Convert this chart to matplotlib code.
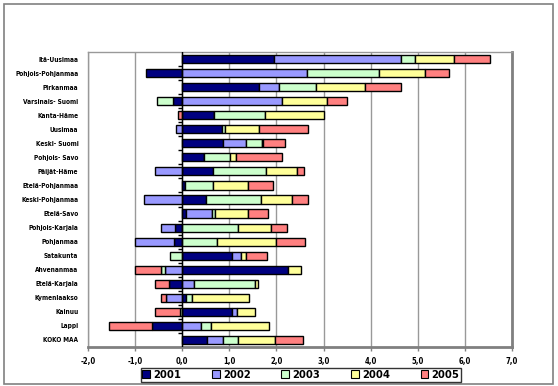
import matplotlib.pyplot as plt
import numpy as np
from matplotlib.patches import Rectangle

regions = ["Itä-Uusimaa", "Pohjois-Pohjanmaa", "Pirkanmaa", "Varsinais- Suomi",
           "Kanta-Häme", "Uusimaa", "Keski- Suomi", "Pohjois- Savo", "Päijät-Häme",
           "Etelä-Pohjanmaa", "Keski-Pohjanmaa", "Etelä-Savo", "Pohjois-Karjala",
           "Pohjanmaa", "Satakunta", "Ahvenanmaa", "Etelä-Karjala", "Kymenlaakso",
           "Kainuu", "Lappi", "KOKO MAA"]
years = ["2001", "2002", "2003", "2004", "2005"]

v2001 = [1.94, -0.76, 1.63, -0.20, 0.67, 0.84, 0.87, 0.46, 0.65, 0.05, 0.50,
         0.09, -0.15, -0.18, 1.06, 2.24, -0.28, 0.07, 1.05, -0.64, 0.53]
v2002 = [2.71, 2.65, 0.43, 2.11, 0.0, -0.13, 0.48, 0.0, -0.57, 0.0, -0.81,
         0.55, -0.30, -0.83, 0.19, -0.37, 0.26, -0.35, 0.12, 0.39, 0.33]
v2003 = [0.30, 1.52, 0.79, -0.34, 1.09, 0.07, 0.34, 0.55, 1.13, 0.60, 1.18,
         0.06, 1.18, 0.73, -0.26, -0.09, 1.28, 0.13, -0.05, 0.22, 0.33]
v2004 = [0.81, 0.99, 1.03, 0.97, 1.24, 0.72, 0.03, 0.13, 0.65, 0.74, 0.66,
         0.70, 0.70, 1.26, 0.10, 0.28, 0.07, 1.21, 0.37, 1.23, 0.77]
v2005 = [0.78, 0.50, 0.77, 0.42, -0.08, 1.03, 0.47, 0.98, 0.15, 0.54, 0.34,
         0.43, 0.34, 0.61, 0.44, -0.54, -0.29, -0.11, -0.53, -0.91, 0.60]

series = [v2001, v2002, v2003, v2004, v2005]
colors = ["#000080", "#9999FF", "#CCFFCC", "#FFFF99", "#FF8080"]

plt.rcParams["font.family"] = "DejaVu Sans"
plt.rcParams["font.stretch"] = "condensed"
plt.rcParams["font.weight"] = "bold"

fig = plt.figure(figsize=(5.58, 3.86), dpi=100)
ax = fig.add_axes([88 / 558, 1 - 347 / 386, (512 - 88) / 558, (347 - 52) / 386])

# outer chart frame
fig.patches.append(Rectangle((4 / 558, 2 / 386), 549 / 558, 380 / 386,
                             transform=fig.transFigure, fill=False,
                             edgecolor="#808080", linewidth=1.2))

y = np.arange(len(regions))
pos = np.zeros(len(regions))
neg = np.zeros(len(regions))
for vals, col, yr in zip(series, colors, years):
    vals = np.array(vals)
    left = np.where(vals >= 0, pos, neg)
    ax.barh(y, vals, left=left, height=0.58, color=col, edgecolor="black",
            linewidth=1.0, label=yr, zorder=3)
    pos += np.clip(vals, 0, None)
    neg += np.clip(vals, None, 0)

ax.set_xlim(-2, 7)
ax.set_ylim(len(regions) - 0.5, -0.5)
ax.set_xticks(np.arange(-2, 8, 1))
ax.set_xticklabels([f"{v:.1f}".replace(".", ",") for v in np.arange(-2, 8, 1)],
                   fontsize=5.5, fontweight="bold")
ax.set_yticks(y)
ax.set_yticklabels(regions, fontsize=4.7, fontweight="bold")
ax.tick_params(axis="y", length=0, pad=7)
ax.tick_params(axis="x", length=3, color="#808080", width=1, pad=4)

ax.grid(axis="x", color="#999999", linewidth=1, zorder=0)
ax.set_axisbelow(True)
for s in ["top", "left"]:
    ax.spines[s].set_color("#999999")
    ax.spines[s].set_linewidth(1)
for s in ["bottom", "right"]:
    ax.spines[s].set_color("#808080")
    ax.spines[s].set_linewidth(2)

# category axis at zero with small ticks between categories
ax.axvline(0, color="black", linewidth=1, zorder=4)
bounds = np.arange(len(regions) + 1) - 0.5
ax.hlines(bounds[1:-1], -0.08, 0, color="black", linewidth=1, zorder=4)

leg = fig.legend(loc="center", bbox_to_anchor=(301 / 558, 1 - 375 / 386),
                 ncol=5, frameon=True, fancybox=False, edgecolor="black",
                 prop={"size": 8, "weight": "bold"}, handlelength=0.7,
                 handleheight=0.7, handletextpad=0.3, columnspacing=2.75,
                 borderpad=0.15)
leg.get_frame().set_linewidth(1)
for h in leg.legend_handles:
    h.set_linewidth(0.8)

fig.savefig("out.png", dpi=100)
